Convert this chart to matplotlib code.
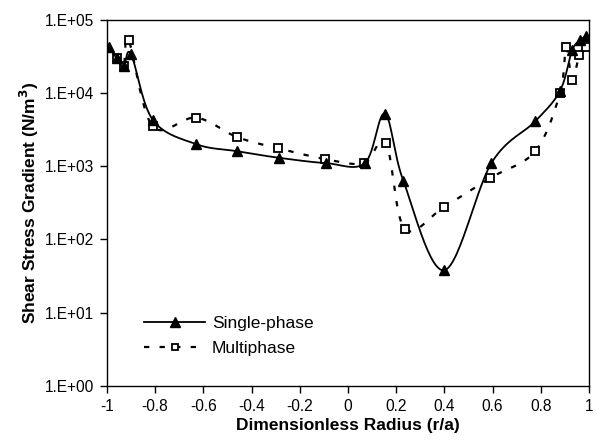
import numpy as np
import matplotlib
matplotlib.use("Agg")
import matplotlib.pyplot as plt
from matplotlib.lines import Line2D
from matplotlib.ticker import FixedLocator, FixedFormatter

plt.rcParams['font.family'] = ['Liberation Sans', 'DejaVu Sans']

# Data
single_x = [-0.99, -0.96, -0.93, -0.90, -0.81, -0.63, -0.46, -0.285, -0.09, 0.07, 0.153, 0.23, 0.40, 0.595, 0.777, 0.88, 0.93, 0.963, 0.988]
single_y = [4.2e4, 3.0e4, 2.3e4, 3.4e4, 4.3e3, 2.0e3, 1.6e3, 1.3e3, 1.1e3, 1.1e3, 5.2e3, 6.3e2, 3.8e1, 1.1e3, 4.1e3, 1.07e4, 3.8e4, 5.2e4, 6.0e4]

multi_x = [-0.96, -0.93, -0.91, -0.81, -0.63, -0.46, -0.29, -0.095, 0.065, 0.157, 0.235, 0.40, 0.59, 0.777, 0.88, 0.905, 0.93, 0.96, 0.988]
multi_y = [3.0e4, 2.3e4, 5.3e4, 3.5e3, 4.6e3, 2.5e3, 1.75e3, 1.25e3, 1.1e3, 2.1e3, 1.4e2, 2.8e2, 6.9e2, 1.6e3, 1.0e4, 4.2e4, 1.5e4, 3.3e4, 4.2e4]

y_ticks = [1e0, 1e1, 1e2, 1e3, 1e4, 1e5]
y_ticklabels = ['1.E+00', '1.E+01', '1.E+02', '1.E+03', '1.E+04', '1.E+05']
x_ticks = [-1, -0.8, -0.6, -0.4, -0.2, 0, 0.2, 0.4, 0.6, 0.8, 1]
x_ticklabels = ['-1', '-0.8', '-0.6', '-0.4', '-0.2', '0', '0.2', '0.4', '0.6', '0.8', '1']


def smooth(xs, ys, n=30):
    """Excel-like Catmull-Rom smoothing in (x, log10 y) space."""
    px = np.asarray(xs, float)
    py = np.log10(np.asarray(ys, float))
    P = np.column_stack([px, py])
    P = np.vstack([P[0], P, P[-1]])
    out = []
    t = np.linspace(0, 1, n)[:, None]
    for i in range(1, len(P) - 2):
        p0, p1, p2, p3 = P[i - 1], P[i], P[i + 1], P[i + 2]
        c1 = p1 + (p2 - p0) / 6.0
        c2 = p2 - (p3 - p1) / 6.0
        seg = ((1 - t) ** 3) * p1 + 3 * ((1 - t) ** 2) * t * c1 + 3 * (1 - t) * t ** 2 * c2 + t ** 3 * p2
        out.append(seg if i == 1 else seg[1:])
    out = np.vstack(out)
    return out[:, 0], 10 ** out[:, 1]


fig = plt.figure(figsize=(5.97, 4.46), dpi=100)
ax = fig.add_axes([0.179, 0.1345, 0.8076, 0.8215])

sx, sy = smooth(single_x, single_y)
mx, my = smooth(multi_x, multi_y)

dash = (0, (2.4, 4.6))
ax.plot(mx, my, color='black', lw=1.6, linestyle=dash)
ax.plot(multi_x, multi_y, linestyle='none', marker='s', markersize=5.5,
        markerfacecolor='white', markeredgecolor='black', markeredgewidth=1.3)
ax.plot(sx, sy, color='black', lw=1.3)
ax.plot(single_x, single_y, linestyle='none', marker='^', markersize=7.5,
        color='black')

ax.set_yscale('log')
ax.set_ylim(1, 1e5)
ax.set_xlim(-1, 1)
ax.yaxis.set_major_locator(FixedLocator(y_ticks))
ax.yaxis.set_major_formatter(FixedFormatter(y_ticklabels))
ax.yaxis.set_minor_locator(FixedLocator([]))
ax.set_xticks(x_ticks)
ax.set_xticklabels(x_ticklabels)
ax.tick_params(axis='both', labelsize=11.2, direction='out', length=5, width=1, pad=4)

for s in ax.spines.values():
    s.set_linewidth(1.0)

ax.set_xlabel('Dimensionless Radius (r/a)', fontsize=12.5, fontweight='bold', labelpad=3)
ax.set_ylabel('Shear Stress Gradient (N/m$^\\mathbf{3}$)', fontsize=12.5, fontweight='bold', labelpad=3)

h1 = Line2D([], [], color='black', lw=1.3, marker='^', markersize=7)
h2 = Line2D([], [], color='black', lw=1.6, linestyle=dash, marker='s', markersize=5,
            markerfacecolor='white', markeredgecolor='black', markeredgewidth=1.3)
ax.legend([h1, h2], ['Single-phase', 'Multiphase'], loc='lower left',
          bbox_to_anchor=(0.045, 0.04), frameon=False, fontsize=12.5,
          handlelength=3.5, numpoints=1, labelspacing=0.55, handletextpad=0.4)

fig.savefig('out.png', dpi=100)
